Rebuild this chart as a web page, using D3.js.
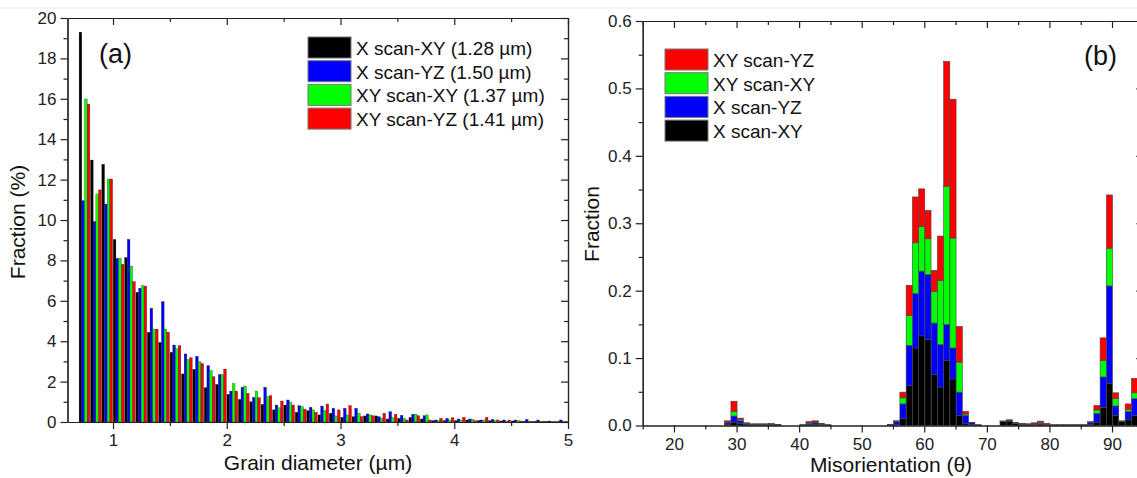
<!DOCTYPE html>
<html><head><meta charset="utf-8">
<script src="https://cdn.jsdelivr.net/npm/d3@7/dist/d3.min.js"></script>
<style>
html,body{margin:0;padding:0;background:#fff;}
svg{display:block;font-family:"Liberation Sans",Arial,sans-serif;}
.axis path,.axis line{stroke:#222;stroke-width:1.2;}
.axis text{font-size:17px;fill:#222;font-family:"Liberation Sans",Arial,sans-serif;}
</style></head>
<body>
<svg id="c" width="1137" height="478"></svg>
<script>
// ---------- Panel (a): grain diameter distribution ----------
const grainBins = [0.7,0.8,0.9,1.0,1.1,1.2,1.3,1.4,1.5,1.6,1.7,1.8,1.9,2.0,2.1,2.2,2.3,2.4,2.5,2.6,2.7,2.8,2.9,3.0,3.1,3.2,3.3,3.4,3.5,3.6,3.7,3.8,3.9,4.0,4.1,4.2,4.3,4.4,4.5,4.6,4.7,4.8,4.9];
const xScanXY  = [19.3,12.97,12.76,9.04,8.14,6.42,4.44,3.94,3.45,2.38,2.61,1.70,1.86,1.37,1.12,1.0,0.87,0.6,0.84,0.48,0.56,0.35,0.43,0.23,0.26,0.3,0.3,0.15,0.18,0.23,0.15,0.07,0.07,0.07,0.1,0.07,0.07,0.05,0.05,0.04,0.04,0.03,0.03];
const xScanYZ  = [10.96,9.92,10.79,8.10,9.04,6.62,5.63,5.96,3.81,3.37,3.25,2.79,2.35,1.53,1.72,1.22,1.72,0.84,1.09,0.81,0.73,0.79,0.68,0.68,0.68,0.4,0.26,0.51,0.33,0.38,0.31,0.1,0.18,0.15,0.15,0.1,0.13,0.1,0.1,0.13,0.1,0.05,0.1];
const xyScanXY = [15.99,11.29,12.03,8.10,7.72,6.75,4.60,4.60,3.63,3.10,2.99,2.55,2.35,1.90,1.78,1.53,1.25,0.70,0.95,0.76,0.6,0.56,0.3,0.35,0.43,0.35,0.18,0.21,0.18,0.38,0.35,0.07,0.1,0.1,0.13,0.1,0.07,0.05,0.07,0.04,0.04,0.03,0.03];
const xyScanYZ = [15.74,11.49,12.03,7.80,6.95,6.73,4.60,4.45,3.78,3.18,2.90,2.24,2.62,1.53,1.42,1.21,1.30,1.04,0.84,0.64,0.48,0.89,0.6,0.81,0.26,0.31,0.43,0.38,0.1,0.31,0.1,0.18,0.21,0.23,0.07,0.23,0.1,0.1,0.05,0.04,0.04,0.03,0.03];
const seriesA = ["X scan-XY (1.28 \u00b5m)","X scan-YZ (1.50 \u00b5m)","XY scan-XY (1.37 \u00b5m)","XY scan-YZ (1.41 \u00b5m)"];
const colorsA = ["#000000","#0000ff","#00ff00","#ff0000"];
const xTicksA = [1,2,3,4,5];
const xMinorA = [1.5,2.5,3.5,4.5];
const yTicksA = [0,2,4,6,8,10,12,14,16,18,20];
const yMinorA = [1,3,5,7,9,11,13,15,17,19];

// ---------- Panel (b): misorientation distribution (stacked) ----------
const misoBins = [28,29,30,31,32,33,34,35,36,40,41,42,43,44,54,55,56,57,58,59,60,61,62,63,64,65,66,67,68,72,73,74,75,76,77,78,79,80,81,82,83,84,85,86,87,88,89,90,91,92,93];
const bXscanXY  = [0.002,0.005,0.003,0.001,0.001,0.001,0.001,0.001,0.0005,0.0005,0.001,0.002,0.001,0.0005,0.0005,0.002,0.010,0.059,0.115,0.133,0.128,0.076,0.057,0.0965,0.069,0.015,0.0025,0.001,0.0005,0.006,0.0065,0.003,0.0015,0.0015,0.001,0.002,0.001,0.0005,0.0005,0.0005,0.0005,0.0005,0.0005,0.002,0.005,0.027,0.062,0.015,0.006,0.0084,0.015];
const bXscanYZ  = [0.002,0.009,0.004,0.002,0.0005,0.0005,0.0005,0.0005,0.0005,0.0003,0.002,0.002,0.001,0.0003,0.0005,0.004,0.022,0.060,0.081,0.096,0.096,0.076,0.063,0.0535,0.046,0.0345,0.0125,0.003,0.0003,0.0003,0.0005,0.0005,0.0005,0.0005,0.001,0.001,0.0005,0.0002,0.0002,0.0002,0.0002,0.0002,0.0002,0.003,0.013,0.045,0.145,0.014,0.0003,0.0126,0.025];
const bXYscanXY = [0.001,0.007,0.002,0.0005,0.0005,0.0005,0.0005,0.0005,0.0002,0.0001,0.001,0.001,0.0005,0.0001,0.0002,0.0005,0.009,0.044,0.075,0.066,0.053,0.047,0.095,0.205,0.163,0.0445,0.002,0.0002,0.0001,0.0002,0.0005,0.0005,0.0002,0.0002,0.001,0.001,0.0005,0.0001,0.0001,0.0001,0.0001,0.0001,0.0001,0.0002,0.005,0.0245,0.056,0.011,0.0003,0.003,0.0085];
const bXYscanYZ = [0.002,0.015,0.002,0.0005,0.0005,0.0005,0.0005,0.001,0.0003,0.0001,0.002,0.002,0.0005,0.0002,0.0003,0.0005,0.0085,0.045,0.068,0.056,0.042,0.031,0.066,0.185,0.206,0.053,0.004,0.0003,0.0001,0.0002,0.001,0.0002,0.0005,0.0002,0.001,0.0025,0.001,0.0002,0.0002,0.0002,0.0002,0.0002,0.0002,0.0003,0.0067,0.0335,0.079,0.0085,0.0002,0.008,0.0215];
const seriesB = ["X scan-XY","X scan-YZ","XY scan-XY","XY scan-YZ"];
const colorsB = ["#000000","#0000ff","#00ff00","#ff0000"];
const xTicksB = [20,30,40,50,60,70,80,90];
const xMinorB = [15,25,35,45,55,65,75,85,95];
const yTicksB = [0,0.1,0.2,0.3,0.4,0.5,0.6];
const yMinorB = [0.05,0.15,0.25,0.35,0.45,0.55];

const svg = d3.select("#c");
svg.append("rect").attr("width",1137).attr("height",478).attr("fill","#fff");
svg.append("line").attr("x1",0).attr("x2",1137).attr("y1",8).attr("y2",8).attr("stroke","#ececec").attr("stroke-width",1);

function frame(g, x, y, xt, xm, yt, ym, yfmt, xfmt){
  const [x0,x1] = x.range(), [y0,y1] = y.range();
  g.append("g").attr("class","axis").attr("transform",`translate(0,${y0})`)
    .call(d3.axisBottom(x).tickValues(xt).tickSize(7).tickSizeOuter(0).tickPadding(5).tickFormat(xfmt));
  g.append("g").attr("class","axis").attr("transform",`translate(0,${y0})`)
    .call(d3.axisBottom(x).tickValues(xm).tickSize(4).tickSizeOuter(0).tickFormat(""));
  g.append("g").attr("class","axis").attr("transform",`translate(0,${y1})`)
    .call(d3.axisTop(x).tickValues(xt).tickSize(-7).tickSizeOuter(0).tickFormat(""));
  g.append("g").attr("class","axis").attr("transform",`translate(0,${y1})`)
    .call(d3.axisTop(x).tickValues(xm).tickSize(-4).tickSizeOuter(0).tickFormat(""));
  g.append("g").attr("class","axis").attr("transform",`translate(${x0},0)`)
    .call(d3.axisLeft(y).tickValues(yt).tickSize(7).tickSizeOuter(0).tickPadding(4).tickFormat(yfmt));
  g.append("g").attr("class","axis").attr("transform",`translate(${x0},0)`)
    .call(d3.axisLeft(y).tickValues(ym).tickSize(4).tickSizeOuter(0).tickFormat(""));
  g.append("g").attr("class","axis").attr("transform",`translate(${x1},0)`)
    .call(d3.axisRight(y).tickValues(yt).tickSize(-7).tickSizeOuter(0).tickFormat(""));
  g.append("g").attr("class","axis").attr("transform",`translate(${x1},0)`)
    .call(d3.axisRight(y).tickValues(ym).tickSize(-4).tickSizeOuter(0).tickFormat(""));
}

// ===== Panel (a) =====
const xA = d3.scaleLinear().domain([0.6,5]).range([67.5,568]);
const yA = d3.scaleLinear().domain([0,20]).range([422,18]);
const inner = d3.scaleBand().domain(seriesA).range([0.002,0.0965]).paddingInner(0);
const gA = svg.append("g");
const valsA = [xScanXY,xScanYZ,xyScanXY,xyScanYZ];
seriesA.forEach((s,si)=>{
  gA.append("g").selectAll("rect").data(grainBins.map((b,i)=>({b,v:valsA[si][i]})))
    .join("rect")
    .attr("x",d=>xA(d.b+inner(s)))
    .attr("width",d=>xA(d.b+inner(s)+inner.bandwidth())-xA(d.b+inner(s)))
    .attr("y",d=>yA(d.v)).attr("height",d=>yA(0)-yA(d.v))
    .attr("fill",colorsA[si]).attr("stroke","#222").attr("stroke-width",0.3);
});
frame(gA,xA,yA,xTicksA,xMinorA,yTicksA,yMinorA,d3.format("d"),d3.format("d"));

const legA = gA.append("g");
seriesA.forEach((s,i)=>{
  legA.append("rect").attr("x",308).attr("y",37+i*23.7).attr("width",43).attr("height",21)
    .attr("fill",colorsA[i]).attr("stroke","#777").attr("stroke-width",1);
  legA.append("text").attr("x",356).attr("y",55+i*23.7).attr("font-size",19).attr("fill","#111").text(s);
});
gA.append("text").attr("x",99).attr("y",63).attr("font-size",27).attr("fill","#111").text("(a)");
gA.append("text").attr("x",318).attr("y",470).attr("text-anchor","middle").attr("font-size",21).attr("fill","#111").text("Grain diameter (\u00b5m)");
gA.append("text").attr("transform","translate(25,222) rotate(-90)").attr("text-anchor","middle").attr("font-size",21).attr("fill","#111").text("Fraction (%)");

// ===== Panel (b) =====
const xB = d3.scaleLinear().domain([15,95]).range([642.7,1143.3]);
const yB = d3.scaleLinear().domain([0,0.6]).range([425.5,21]);
const gB = svg.append("g");
const rowsB = misoBins.map((b,i)=>({bin:b,[seriesB[0]]:bXscanXY[i],[seriesB[1]]:bXscanYZ[i],[seriesB[2]]:bXYscanXY[i],[seriesB[3]]:bXYscanYZ[i]}));
const stack = d3.stack().keys(seriesB)(rowsB);
stack.forEach((layer,li)=>{
  gB.append("g").selectAll("rect").data(layer).join("rect")
    .attr("x",d=>xB(d.data.bin+0.1))
    .attr("width",d=>xB(d.data.bin+1.08)-xB(d.data.bin+0.1))
    .attr("y",d=>yB(d[1])).attr("height",d=>yB(d[0])-yB(d[1]))
    .attr("fill",colorsB[li]).attr("stroke","#444").attr("stroke-width",0.6);
});
frame(gB,xB,yB,xTicksB,xMinorB,yTicksB,yMinorB,d3.format(".1f"),d3.format("d"));

const legB = gB.append("g");
[3,2,1,0].forEach((si,i)=>{
  legB.append("rect").attr("x",665).attr("y",49+i*23.7).attr("width",43).attr("height",21)
    .attr("fill",colorsB[si]).attr("stroke","#777").attr("stroke-width",1);
  legB.append("text").attr("x",713).attr("y",67+i*23.7).attr("font-size",19).attr("fill","#111").text(seriesB[si]);
});
gB.append("text").attr("x",1084).attr("y",65).attr("font-size",27).attr("fill","#111").text("(b)");
gB.append("text").attr("x",891).attr("y",472).attr("text-anchor","middle").attr("font-size",21).attr("fill","#111").text("Misorientation (\u03b8)");
gB.append("text").attr("transform","translate(599,224) rotate(-90)").attr("text-anchor","middle").attr("font-size",21).attr("fill","#111").text("Fraction");
</script>
</body></html>
